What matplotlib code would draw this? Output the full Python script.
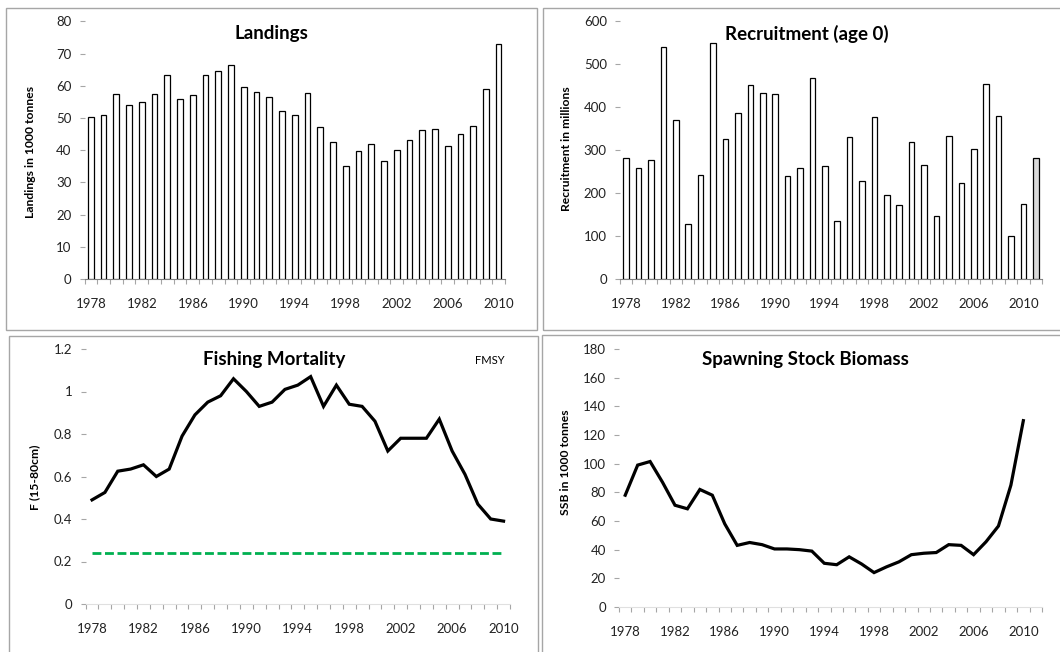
import numpy as np
import matplotlib; matplotlib.use("Agg")
import matplotlib.pyplot as plt
from matplotlib.patches import Rectangle

plt.rcParams['font.family'] = ['Lato', 'DejaVu Sans']

years = list(range(1978, 2011))          # 1978-2010
rec_years = list(range(1978, 2012))      # 1978-2011 (last one is the estimate)
landings = [50.3, 51, 57.3, 54, 54.8, 57.3, 63.3, 56, 57, 63.3, 64.6, 66.3, 59.7,
            58, 56.6, 52, 51, 57.6, 47.3, 42.4, 35.2, 39.6, 42, 36.5, 40, 43.1,
            46.2, 46.5, 41.3, 45.1, 47.6, 59, 73]
recruitment = [281, 258, 276, 540, 370, 128, 242, 550, 326, 386, 451, 433, 431,
               239, 258, 467, 263, 136, 331, 229, 378, 195, 172, 318, 266, 147,
               333, 224, 302, 455, 380, 100, 175, 281]
fmort = [0.49, 0.525, 0.625, 0.635, 0.655, 0.60, 0.635, 0.79, 0.89, 0.95, 0.98,
         1.06, 1.0, 0.93, 0.95, 1.01, 1.03, 1.07, 0.93, 1.03, 0.94, 0.93, 0.86,
         0.72, 0.78, 0.78, 0.78, 0.87, 0.72, 0.61, 0.47, 0.40, 0.39]
fmsy = 0.24
ssb = [78, 99, 101.5, 87, 71, 68.5, 82, 78, 58, 43, 45, 43.5, 40.5, 40.5, 40, 39,
       30.5, 29.5, 35, 30, 24, 28, 31.5, 36.5, 37.5, 38, 43.5, 43, 36.5, 45.5,
       56.5, 85, 130]
xlabels = list(range(1978, 2011, 4))

W, H = 1060, 652
fig = plt.figure(figsize=(W / 100, H / 100), dpi=100)

def px(x0, y0, x1, y1):
    # pixel box (top-left origin) -> figure fraction [l, b, w, h]
    return [x0 / W, 1 - y1 / H, (x1 - x0) / W, (y1 - y0) / H]

# chart frames
for x0, y0, x1, y1 in [(6, 8, 537, 330), (543, 8, 1075, 330),
                       (9, 336, 538, 665), (542, 335, 1075, 665)]:
    fig.patches.append(Rectangle((x0 / W, 1 - y1 / H), (x1 - x0) / W, (y1 - y0) / H,
                                 transform=fig.transFigure, fill=False,
                                 ec="#a6a6a6", lw=1.0))

def style(ax, lo, hi, yticks, ylabs, axis_col):
    ax.set_xlim(lo, hi)
    ax.set_ylim(yticks[0], yticks[-1])
    for s in ("top", "right", "left"):
        ax.spines[s].set_visible(False)
    ax.spines["bottom"].set_color(axis_col)
    ax.spines["bottom"].set_linewidth(0.8)
    ax.set_yticks(yticks)
    ax.set_yticklabels(ylabs)
    ax.set_xticks(xlabels)
    ax.set_xticklabels([str(y) for y in xlabels])
    ax.set_xticks(np.arange(lo, hi + 0.01, 1.0), minor=True)
    ax.tick_params(axis="x", which="major", length=0, pad=14, labelsize=9.5, colors="#222222")
    ax.tick_params(axis="x", which="minor", length=3.5, width=0.8, color="#a6a6a6")
    ax.tick_params(axis="y", length=3.5, width=0.8, color="#a6a6a6", pad=6,
                   labelsize=9.5, labelcolor="#222222")
    ax.set_facecolor("none")

# Landings
ax1 = fig.add_axes(px(84.5, 21.3, 505, 279))
ax1.bar(years, landings, width=0.45, color="white", edgecolor="black", lw=0.9, zorder=3)
style(ax1, 1977.5, 2010.5, list(range(0, 81, 10)), [str(v) for v in range(0, 81, 10)], "#808080")
fig.text(271 / W, 1 - 33 / H, "Landings", ha="center", va="center", fontsize=13.5, fontweight="bold")
fig.text(31 / W, 1 - 152 / H, "Landings in 1000 tonnes", rotation=90, ha="center",
         va="center", fontsize=8.7, fontweight="bold")

# Recruitment
ax2 = fig.add_axes(px(620, 21.3, 1042, 279))
cols = ["white"] * (len(rec_years) - 1) + ["#d9d9d9"]
ax2.bar(rec_years, recruitment, width=0.45, color=cols, edgecolor="black", lw=0.9, zorder=3)
style(ax2, 1977.5, 2011.5, list(range(0, 601, 100)), [str(v) for v in range(0, 601, 100)], "#808080")
fig.text(807 / W, 1 - 34 / H, "Recruitment (age 0)", ha="center", va="center", fontsize=13.5, fontweight="bold")
fig.text(567 / W, 1 - 149 / H, "Recruitment in millions", rotation=90, ha="center",
         va="center", fontsize=8.7, fontweight="bold")

# Fishing mortality
ax3 = fig.add_axes(px(85.6, 349, 510, 604))
ax3.plot(years, fmort, color="black", lw=2.3, solid_joinstyle="miter")
ln, = ax3.plot(years, [fmsy] * len(years), color="#00b050", lw=2.0)
ln.set_dashes((3.2, 1.3))
fticks = [0, 0.2, 0.4, 0.6, 0.8, 1.0, 1.2]
style(ax3, 1977.5, 2010.5, fticks, ["0", "0.2", "0.4", "0.6", "0.8", "1", "1.2"], "#e0e0e0")
fig.text(274 / W, 1 - 360 / H, "Fishing Mortality", ha="center", va="center", fontsize=13.5, fontweight="bold")
fig.text(490 / W, 1 - 360 / H, "FMSY", ha="center", va="center", fontsize=8)
fig.text(35 / W, 1 - 477 / H, "F (15-80cm)", rotation=90, ha="center",
         va="center", fontsize=8.7, fontweight="bold")

# SSB
ax4 = fig.add_axes(px(619, 349, 1042, 607))
ax4.plot(years, ssb, color="black", lw=2.3, solid_joinstyle="miter")
style(ax4, 1977.5, 2011.5, list(range(0, 181, 20)), [str(v) for v in range(0, 181, 20)], "#e0e0e0")
fig.text(805 / W, 1 - 360 / H, "Spawning Stock Biomass", ha="center", va="center", fontsize=13.5, fontweight="bold")
fig.text(565.5 / W, 1 - 462 / H, "SSB in 1000 tonnes", rotation=90, ha="center",
         va="center", fontsize=8.7, fontweight="bold")

fig.savefig("out.png", dpi=100)
